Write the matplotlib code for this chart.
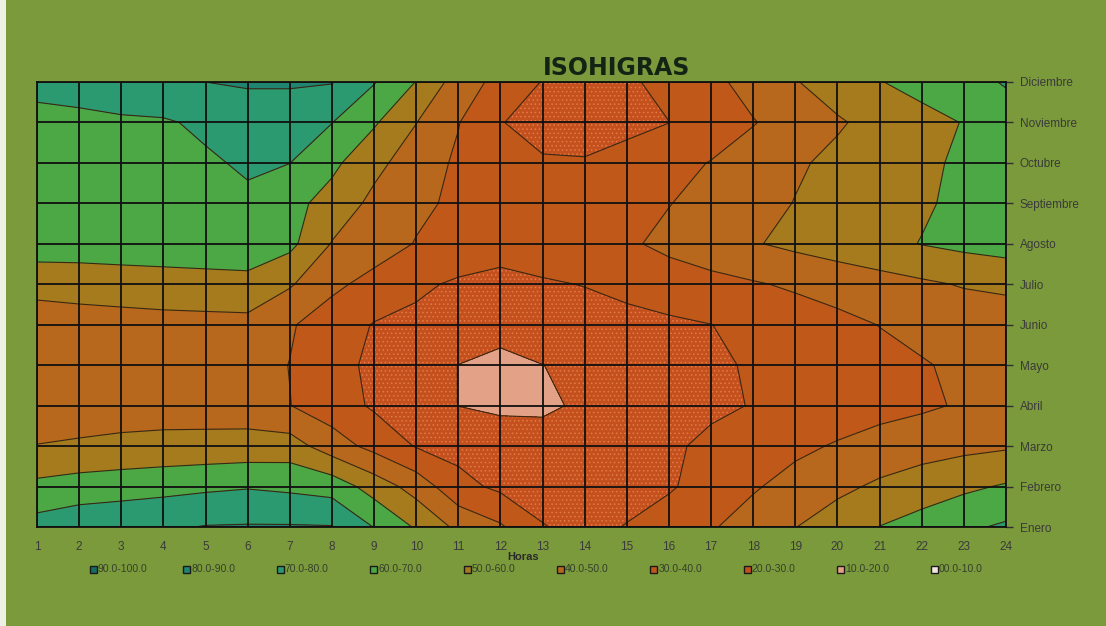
import numpy as np
import matplotlib
matplotlib.use("Agg")
import matplotlib.pyplot as plt
from matplotlib.patches import Rectangle

plt.rcParams['font.family'] = ['Liberation Sans', 'DejaVu Sans']
plt.rcParams['hatch.color'] = '#e27a48'
plt.rcParams['hatch.linewidth'] = 0.6

hours = list(range(1, 25))
months = ["Enero", "Febrero", "Marzo", "Abril", "Mayo", "Junio",
          "Julio", "Agosto", "Septiembre", "Octubre", "Noviembre", "Diciembre"]

# Relative humidity (%) for each month, hours 1..24
hr_enero = [74, 76.6, 77.5, 78.5, 80.5, 80.8, 80.8, 80.5, 69.7, 58.9, 47.7, 41.3,
            30.5, 27, 30.5, 34.5, 39.1, 44.3, 49.8, 54.9, 60.2, 64.1, 68.2, 71.5]
hr_febrero = [62.5, 64.6, 65.8, 67, 68.2, 69.3, 68, 66, 55.7, 46, 33, 28,
              26, 25, 26, 29, 33.8, 39, 43.5, 47.8, 51.6, 54.8, 58.1, 61]
hr_marzo = [50.2, 51, 52, 52.7, 53.2, 53.7, 54.5, 44.7, 37, 29.4, 27, 26,
            25, 25, 26, 28.5, 32, 35, 37.9, 40.9, 44, 46, 47.5, 48.8]
hr_abril = [46, 46, 46, 46, 45.5, 45, 40.2, 34.8, 28.7, 24.3, 19.9, 18,
            18, 21.8, 24, 26.1, 28.3, 30.4, 32.4, 34.5, 36.5, 38.5, 41, 45]
hr_mayo = [45, 45, 45, 45, 45, 44, 39.8, 33.4, 28, 24, 19.9, 17,
           19.9, 22.2, 24.3, 26.5, 28.7, 30.8, 32.9, 35, 37.1, 39.2, 42, 45]
hr_junio = [45.3, 45.8, 46.5, 47.1, 47.3, 47.5, 41, 34.8, 29.5, 27.6, 25.8, 24,
            25, 26, 27, 28.5, 29.9, 32.4, 34.9, 37.5, 40.2, 43, 44, 44.6]
hr_julio = [53, 54, 54.5, 55, 55.5, 56, 51, 42.2, 36.7, 31.9, 28.5, 27,
            29, 30.3, 32.7, 34.8, 37, 39.1, 41.4, 43.7, 46, 48.4, 50.7, 52]
hr_agosto = [65.7, 65.3, 66, 66.6, 67.3, 68, 62.5, 49.5, 44.9, 39.5, 37, 34.1,
             35, 35, 38.5, 42.5, 45.9, 49.3, 52.2, 54.9, 57.6, 60.3, 62.5, 64.3]
hr_septiembre = [66, 66, 66.5, 67, 67.5, 68, 63.2, 56.1, 47.6, 42.2, 38, 35,
                 34, 34.5, 36, 39.7, 43.3, 46.8, 50.3, 53.1, 56, 58.9, 62, 65]
hr_octubre = [65, 66, 67, 67.5, 68.5, 71.5, 70.1, 62.3, 52.7, 45, 38.5, 35,
              31, 30.8, 34, 37, 40.4, 44.6, 48.8, 52.1, 55.2, 58.2, 61.5, 66]
hr_noviembre = [64, 66, 68.1, 68.8, 72, 75, 75, 70.2, 61.2, 50.2, 40.4, 30.4,
                26.5, 25.5, 27, 29.9, 34.7, 39.5, 44.3, 49, 53, 56.7, 60.4, 66]
hr_diciembre = [76, 77, 78, 79, 80, 81, 81, 80.5, 70.6, 59.7, 45.4, 36.8,
                29.6, 27.5, 28.5, 32.9, 37.6, 43.5, 49.5, 54.3, 59.6, 63.4, 67.1, 70.7]

levels = [0, 10, 20, 30, 40, 50, 60, 70, 80, 90, 100]
band_labels = ["00.0-10.0", "10.0-20.0", "20.0-30.0", "30.0-40.0", "40.0-50.0",
               "50.0-60.0", "60.0-70.0", "70.0-80.0", "80.0-90.0", "90.0-100.0"]
band_colors = ["#f3e6dc", "#e3a287", "#c4511d", "#c0581a", "#b7681c",
               "#a57b1e", "#4ba845", "#2c9a70", "#1f8470", "#176b62"]
band_hatches = [None, None, "....", None, None, None, None, None, None, None]

Z = np.array([hr_enero, hr_febrero, hr_marzo, hr_abril, hr_mayo, hr_junio,
              hr_julio, hr_agosto, hr_septiembre, hr_octubre, hr_noviembre,
              hr_diciembre])
X, Y = np.meshgrid(hours, np.arange(1, len(months) + 1))

W, H = 1106, 626
bg = "#7b9a3c"
fig = plt.figure(figsize=(W / 100, H / 100), dpi=100)
fig.patch.set_facecolor(bg)

# pale strip along the left edge of the sheet
fig.patches.append(Rectangle((0, 0), 6 / W, 1, transform=fig.transFigure,
                             facecolor="#eef0e6", edgecolor="none"))

ax = fig.add_axes([37 / W, (H - 527) / H, 969 / W, 445 / H])
ax.contourf(X, Y, Z, levels=levels, colors=band_colors, hatches=band_hatches)
ax.contour(X, Y, Z, levels=levels[1:-1], colors="#3a2612", linewidths=0.8)

for h in hours:
    ax.axvline(h, color="#101010", lw=1.3, zorder=3)
for m in range(1, len(months) + 1):
    ax.axhline(m, color="#101010", lw=1.3, zorder=3)

ax.set_xlim(1, 24)
ax.set_ylim(1, 12)
for s in ax.spines.values():
    s.set_color("#101010")
    s.set_linewidth(1.3)

ax.set_xticks(hours)
ax.set_xticklabels([str(h) for h in hours])
ax.tick_params(axis="x", length=0, pad=10, labelsize=8.5, labelcolor="#3a3a3a")
ax.yaxis.tick_right()
ax.set_yticks(range(1, len(months) + 1))
ax.set_yticklabels(months)
ax.tick_params(axis="y", length=5, width=1, color="#303030", pad=5,
               labelsize=8.5, labelcolor="#3a3a3a")

fig.text(617 / W, 1 - 68 / H, "ISOHIGRAS", ha="center", va="center",
         fontsize=17, fontweight="bold", color="#142414",
         family=["DejaVu Sans"])
fig.text(523 / W, 1 - 557 / H, "Horas", ha="center", va="center",
         fontsize=8, fontweight="bold", color="#2a2a2a")

# legend row, highest band first
x0, dx, ly, sw = 90, 93.4, 569, 7
for i, k in enumerate(range(len(band_labels) - 1, -1, -1)):
    px = x0 + i * dx
    fig.patches.append(Rectangle((px / W, 1 - (ly + sw / 2) / H), sw / W, sw / H,
                                 transform=fig.transFigure, facecolor=band_colors[k],
                                 edgecolor="#1a1a1a", lw=1.0))
    fig.text((px + sw + 1) / W, 1 - ly / H, band_labels[k], ha="left", va="center",
             fontsize=7.5, color="#34402a")

fig.savefig("out.png", dpi=100, facecolor=bg)
